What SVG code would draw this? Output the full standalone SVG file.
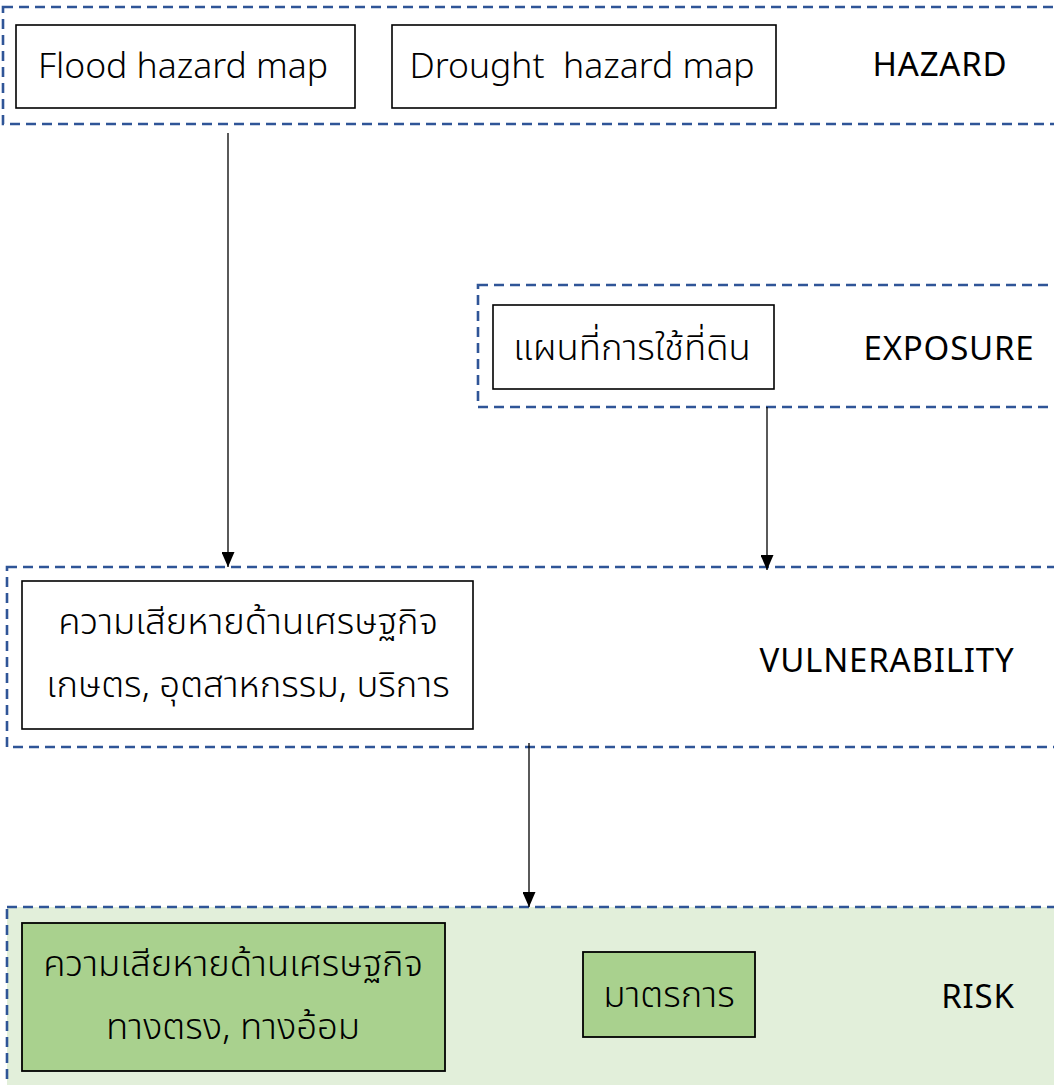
<svg xmlns="http://www.w3.org/2000/svg" width="1054" height="1085" viewBox="0 0 1054 1085">
<style>
.grp{fill:none;stroke:#2F5597;stroke-width:2.6;stroke-dasharray:10 6}
.box{fill:#fff;stroke:#000;stroke-width:1.6}
.gbox{fill:#A9D18E;stroke:#000;stroke-width:1.8}
.t{font-family:"Noto Sans","Noto Sans Thai","DejaVu Sans",sans-serif;font-size:35.5px;fill:#000;text-anchor:middle;font-weight:300}
.th{font-size:36.5px}
.lbl{font-family:"Noto Sans","DejaVu Sans",sans-serif;font-size:33px;letter-spacing:0.8px;fill:#000;text-anchor:middle}
.c{stroke:#000;stroke-width:1.3;fill:none}
</style>
<defs>
<marker id="ah" markerWidth="15" markerHeight="13" refX="15" refY="6.5" orient="auto" markerUnits="userSpaceOnUse" viewBox="0 0 15 13">
<path d="M0,0 L15,6.5 L0,13 Z" fill="#000"/>
</marker>
</defs>
<g id="group-hazard">
<rect class="grp" x="3" y="7" width="1070" height="117"/>
<text class="lbl" x="940" y="76">HAZARD</text>
</g>
<g id="group-exposure">
<rect class="grp" x="478" y="285" width="600" height="122"/>
<text class="lbl" x="949" y="360">EXPOSURE</text>
</g>
<g id="group-vulnerability">
<rect class="grp" x="7" y="567" width="1070" height="180"/>
<text class="lbl" x="887" y="672">VULNERABILITY</text>
</g>
<g id="group-risk">
<rect x="7" y="907" width="1070" height="200" fill="#E2EFDA"/>
<rect class="grp" x="7" y="907" width="1070" height="200"/>
<text class="lbl" x="978" y="1008">RISK</text>
</g>
<g id="node-flood">
<rect class="box" x="16" y="25" width="339" height="83"/>
<text class="t" x="183" y="78">Flood hazard map</text>
</g>
<g id="node-drought">
<rect class="box" x="392" y="25" width="384" height="83"/>
<text class="t" x="582" y="78" xml:space="preserve">Drought  hazard map</text>
</g>
<g id="node-landuse">
<rect class="box" x="493" y="305" width="281" height="84"/>
<text class="t th" x="632" y="360">แผนที่การใช้ที่ดิน</text>
</g>
<g id="node-vuln">
<rect class="box" x="22" y="581" width="451" height="148"/>
<text class="t th" x="248" y="634">ความเสียหายด้านเศรษฐกิจ</text>
<text class="t th" x="248" y="697">เกษตร, อุตสาหกรรม, บริการ</text>
</g>
<g id="node-risk-loss">
<rect class="gbox" x="22" y="923" width="423" height="148"/>
<text class="t th" x="233" y="976">ความเสียหายด้านเศรษฐกิจ</text>
<text class="t th" x="233" y="1039">ทางตรง, ทางอ้อม</text>
</g>
<g id="node-measures">
<rect class="gbox" x="583" y="952" width="172" height="85"/>
<text class="t th" x="669" y="1007">มาตรการ</text>
</g>
<g id="connectors">
<line class="c" x1="228" y1="133" x2="228" y2="567" marker-end="url(#ah)"/>
<line class="c" x1="767" y1="407" x2="767" y2="570" marker-end="url(#ah)"/>
<line class="c" x1="529" y1="743" x2="529" y2="907" marker-end="url(#ah)"/>
</g>
</svg>
